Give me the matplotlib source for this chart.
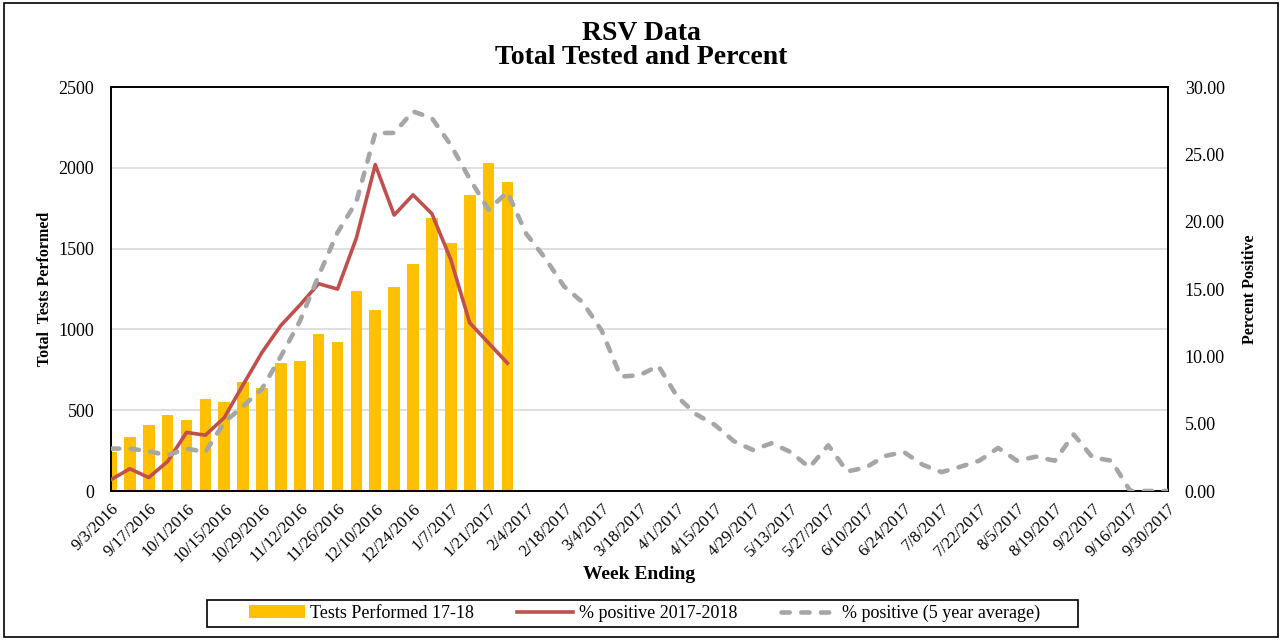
import numpy as np
import pandas as pd
import matplotlib
matplotlib.use("Agg")
import matplotlib.pyplot as plt
from matplotlib.patches import Rectangle

plt.rcParams['font.family'] = ['Liberation Serif', 'DejaVu Serif']

# week ending dates, 9/3/2016 .. 9/30/2017
weeks = pd.date_range('2016-09-03', '2017-09-30', freq='7D')
week_labels = [f"{d.month}/{d.day}/{d.year}" for d in weeks]

# tests performed 17-18 (left axis)
tests = [240, 335, 410, 470, 440, 570, 550, 675, 640, 790, 805, 970, 925,
         1240, 1120, 1265, 1405, 1690, 1535, 1830, 2030, 1910]

# % positive 2017-2018 (right axis)
pct_current = [0.85, 1.65, 1.0, 2.2, 4.35, 4.15, 5.45, 7.9, 10.3, 12.3, 13.8,
               15.4, 15.0, 18.8, 24.25, 20.5, 22.0, 20.6, 17.2, 12.5, 11.0, 9.5]

# % positive (5 year average)
pct_avg = [3.15, 3.15, 2.95, 2.65, 3.15, 2.9, 5.1, 6.3, 7.6, 10.0, 12.6, 16.0,
           19.2, 21.5, 26.6, 26.6, 28.2, 27.7, 25.7, 23.2, 20.9, 22.2, 19.1,
           17.3, 15.2, 14.0, 11.9, 8.5, 8.6, 9.3, 7.0, 5.7, 4.9, 3.7, 3.05,
           3.55, 2.9, 1.75, 3.4, 1.45, 1.75, 2.6, 2.9, 1.95, 1.4, 1.8, 2.25,
           3.2, 2.25, 2.55, 2.25, 4.2, 2.5, 2.25, 0.0, 0.0, 0.0]

fig = plt.figure(figsize=(12.82, 6.41), dpi=100)
fig.patches.append(Rectangle((0.003, 0.006), 0.994, 0.989, transform=fig.transFigure,
                             fill=False, edgecolor='black', linewidth=1.2))

ax = fig.add_axes([0.0866, 0.234, 0.8245, 0.630])
ax2 = ax.twinx()

x = np.arange(len(weeks))
bars = ax.bar(x[:len(tests)], tests, width=0.62, color='#FFC000', zorder=2)
ln1, = ax2.plot(x[:len(pct_current)], pct_current, color='#C0504D', lw=2.6, zorder=3)
ln2, = ax2.plot(x, pct_avg, color='#A6A6A6', lw=3.3, dashes=(1.8, 2.5),
                dash_capstyle='round', zorder=3)

ax.set_xlim(0, len(weeks) - 1)
ax.set_ylim(0, 2500)
ax.set_yticks(range(0, 2501, 500))
ax2.set_ylim(0, 30)
ax2.set_yticks(range(0, 31, 5))
ax2.set_yticklabels([f"{v:.2f}" for v in range(0, 31, 5)])

ax.grid(axis='y', color='#D9D9D9', lw=1.2, zorder=0)
ax.set_axisbelow(True)
ax.set_xticks(x[::2])
ax.set_xticklabels(week_labels[::2], rotation=45, ha='right', rotation_mode='anchor',
                   fontsize=12)
ax.tick_params(axis='y', length=0, labelsize=13, pad=12)
ax.tick_params(axis='x', length=0, pad=7)
ax2.tick_params(axis='y', length=0, labelsize=13, pad=12)
for a in (ax, ax2):
    for s in a.spines.values():
        s.set_color('black')
        s.set_linewidth(1.2)

ax.set_ylabel('Total  Tests Performed', fontsize=11.5, fontweight='bold', labelpad=4)
ax2.set_ylabel('Percent Positive', fontsize=11.5, fontweight='bold', labelpad=12)
ax.set_xlabel('Week Ending', fontsize=14, fontweight='bold')
ax.xaxis.set_label_coords(0.5, -0.185)

fig.text(0.5, 0.948, 'RSV Data', ha='center', va='center', fontsize=20, fontweight='bold')
fig.text(0.5, 0.911, 'Total Tested and Percent', ha='center', va='center',
         fontsize=20, fontweight='bold')

# legend frame drawn separately so the padding matches
fig.patches.append(Rectangle((207 / 1282, 1 - 627 / 641), 871 / 1282, 27 / 641,
                             transform=fig.transFigure, fill=False,
                             edgecolor='black', linewidth=1.2))
leg = fig.legend([bars, ln1, ln2],
                 ['Tests Performed 17-18', '% positive 2017-2018', '% positive (5 year average)'],
                 loc='center', bbox_to_anchor=(0.5027, 0.043), ncol=3, fontsize=13,
                 frameon=False, handlelength=3.1, columnspacing=2.4,
                 borderpad=0.2, handletextpad=0.3)

fig.savefig('out.png', dpi=100)
